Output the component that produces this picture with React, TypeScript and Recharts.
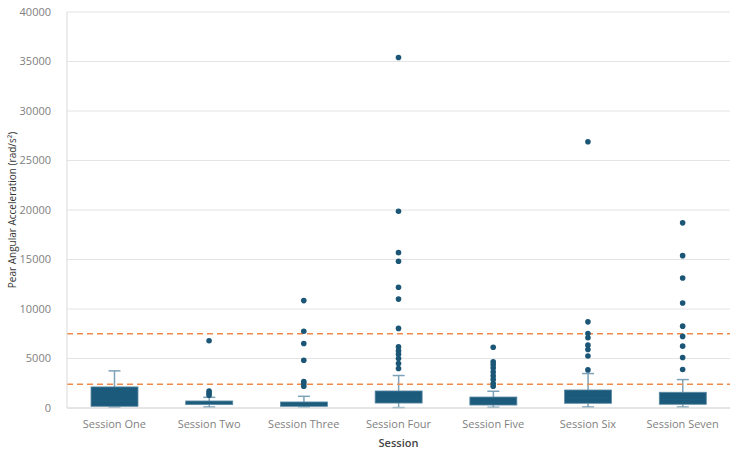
import {
  ComposedChart,
  Bar,
  Scatter,
  XAxis,
  YAxis,
  CartesianGrid,
  ReferenceLine,
} from "recharts";

const sessions = [
  "Session One",
  "Session Two",
  "Session Three",
  "Session Four",
  "Session Five",
  "Session Six",
  "Session Seven",
];

// box plot stats per session (rad/s²)
const whiskerLow = [80, 100, 100, 40, 70, 100, 100];
const quartile1 = [170, 340, 170, 500, 300, 475, 375];
const medians = [700, 520, 330, 900, 600, 1000, 840];
const quartile3 = [2130, 710, 610, 1720, 1110, 1820, 1590];
const whiskerHigh = [3750, 1080, 1180, 3280, 1690, 3480, 2870];

const outliers = [
  [],
  [6800, 1700, 1500, 1300],
  [10850, 7760, 6520, 4830, 2670, 2470, 2200],
  [35400, 19880, 15690, 14820, 12190, 11000, 8040, 6170, 5770, 5430, 5000, 4490, 3990],
  [6140, 4660, 4390, 4050, 3640, 3240, 2870, 2470, 2200],
  [26890, 8700, 7530, 7090, 6350, 5910, 5260, 3850],
  [18700, 15390, 13130, 10600, 8270, 7230, 6250, 5100, 3890],
];

const yTicks = [0, 5000, 10000, 15000, 20000, 25000, 30000, 35000, 40000];
const thresholds = [2400, 7500];

const boxRows = sessions.map((name, i) => ({
  name,
  lo: whiskerLow[i],
  q1: quartile1[i],
  med: medians[i],
  q3: quartile3[i],
  hi: whiskerHigh[i],
}));

const outlierRows = sessions.flatMap((name, i) =>
  outliers[i].map((value) => ({ name, value }))
);

const BOX = "#1b5a7b";
const WHISKER = "#7ea2b7";
const FONT = "'Open Sans', sans-serif";

function BoxShape(props: any) {
  const { x, y, width, height, payload } = props;
  if (height == null || !payload) return null;
  const h = Math.abs(height);
  const top = Math.min(y, y + height);
  const unit = h / (payload.hi - payload.lo);
  const py = (v: number) => top + (payload.hi - v) * unit;
  const cx = x + width / 2;
  const cap = 6;
  return (
    <g>
      <line x1={cx} x2={cx} y1={py(payload.hi)} y2={py(payload.q3)} stroke={WHISKER} strokeWidth={1.5} />
      <line x1={cx} x2={cx} y1={py(payload.q1)} y2={py(payload.lo)} stroke={WHISKER} strokeWidth={1.5} />
      <line x1={cx - cap} x2={cx + cap} y1={py(payload.hi)} y2={py(payload.hi)} stroke={WHISKER} strokeWidth={1.5} />
      <line x1={cx - cap} x2={cx + cap} y1={py(payload.lo)} y2={py(payload.lo)} stroke={WHISKER} strokeWidth={1.5} />
      <rect
        x={x}
        y={py(payload.q3)}
        width={width}
        height={py(payload.q1) - py(payload.q3)}
        fill={BOX}
        stroke="#5d8aa3"
        strokeWidth={0.8}
      />
      <line x1={x + 1} x2={x + width - 1} y1={py(payload.med)} y2={py(payload.med)} stroke="#20607f" strokeWidth={1} />
    </g>
  );
}

export default function App() {
  return (
    <div style={{ position: "absolute", left: 0, top: 0, background: "#fff" }}>
      <ComposedChart
        width={736}
        height={451}
        data={boxRows}
        margin={{ top: 12, right: 6, bottom: 0, left: 7 }}
        style={{ fontFamily: FONT }}
      >
        <CartesianGrid vertical={false} stroke="#e4e4e4" />
        <XAxis
          dataKey="name"
          type="category"
          allowDuplicatedCategory={false}
          tickLine={false}
          axisLine={{ stroke: "#d9d9d9" }}
          tick={{ fill: "#7f7f7f", fontSize: 11 }}
          tickMargin={6}
          height={43}
          label={{
            value: "Session",
            position: "insideBottom",
            offset: 4,
            fill: "#444",
            fontSize: 11,
            fontWeight: 600,
          }}
        />
        <YAxis
          domain={[0, 40000]}
          ticks={yTicks}
          tickLine={false}
          axisLine={{ stroke: "#d9d9d9" }}
          tick={{ fill: "#808080", fontSize: 11 }}
          tickMargin={10}
          width={60}
          label={{
            value: "Pear Angular Acceleration (rad/s²)",
            angle: -90,
            position: "insideLeft",
            offset: 5,
            fill: "#333",
            fontSize: 10,
            style: { textAnchor: "middle" },
          }}
        />
        {thresholds.map((t) => (
          <ReferenceLine
            key={t}
            y={t}
            stroke="#f08a4b"
            strokeWidth={1.5}
            strokeDasharray="6 4"
          />
        ))}
        <Bar
          dataKey={(d: any) => [d.lo, d.hi]}
          barSize={47}
          shape={BoxShape}
          isAnimationActive={false}
        />
        <Scatter
          data={outlierRows}
          dataKey="value"
          isAnimationActive={false}
          shape={(p: any) => <circle cx={p.cx} cy={p.cy} r={2.8} fill="#1b5676" />}
        />
      </ComposedChart>
    </div>
  );
}
